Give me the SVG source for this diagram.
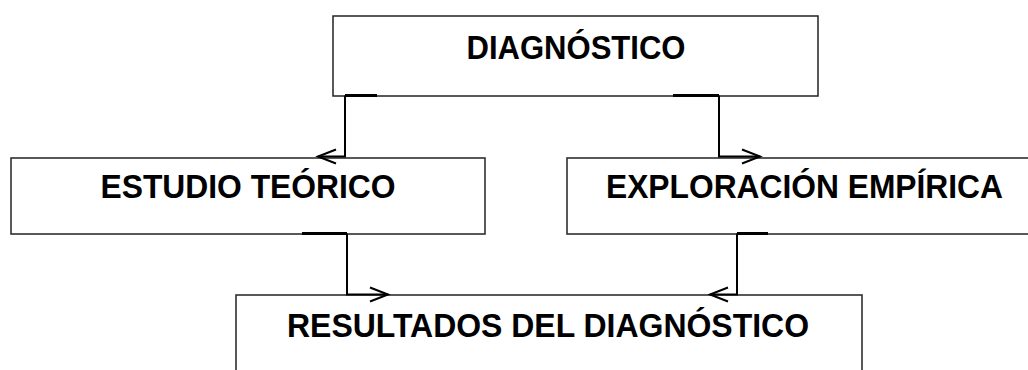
<svg xmlns="http://www.w3.org/2000/svg" width="1028" height="370" viewBox="0 0 1028 370">
<defs>
<style>
.box{fill:#fff;stroke:#222;stroke-width:1.5}
.lbl{font-family:"Liberation Sans",Arial,sans-serif;font-weight:bold;font-size:33px;fill:#000;text-anchor:middle}
.con{fill:none;stroke:#000;stroke-width:2}
.stub{fill:none;stroke:#000;stroke-width:3}
.head{fill:none;stroke:#000;stroke-width:2}
</style>
</defs>
<rect width="1028" height="370" fill="#fff"/>
<g id="n-diagnostico">
<rect class="box" x="333" y="16" width="485" height="80"/>
<text class="lbl" x="576" y="59" textLength="219" lengthAdjust="spacingAndGlyphs">DIAGNÓSTICO</text>
</g>
<g id="n-estudio">
<rect class="box" x="11" y="158" width="474" height="76"/>
<text class="lbl" x="248" y="198" textLength="295" lengthAdjust="spacingAndGlyphs">ESTUDIO TEÓRICO</text>
</g>
<g id="n-exploracion">
<rect class="box" x="567" y="158" width="475" height="76"/>
<text class="lbl" x="804.5" y="198" textLength="397" lengthAdjust="spacingAndGlyphs">EXPLORACIÓN EMPÍRICA</text>
</g>
<g id="n-resultados">
<rect class="box" x="236" y="295" width="626" height="90"/>
<text class="lbl" x="548" y="337" textLength="522" lengthAdjust="spacingAndGlyphs">RESULTADOS DEL DIAGNÓSTICO</text>
</g>
<g id="connectors">
<path class="stub" d="M377 95.5H345"/>
<path class="con" d="M345 95.5V156.5H318"/>
<path class="head" d="M336 149.5L318 156.5L336 163.5"/>
<path class="stub" d="M673 95.5H719"/>
<path class="con" d="M719 95.5V156.5H760"/>
<path class="head" d="M742 149.5L760 156.5L742 163.5"/>
<path class="stub" d="M302 233.5H347"/>
<path class="con" d="M347 233.5V294.5H388"/>
<path class="head" d="M370 287.5L388 294.5L370 301.5"/>
<path class="stub" d="M768 233.5H737"/>
<path class="con" d="M737 233.5V294.5H710"/>
<path class="head" d="M728 287.5L710 294.5L728 301.5"/>
</g>
</svg>
